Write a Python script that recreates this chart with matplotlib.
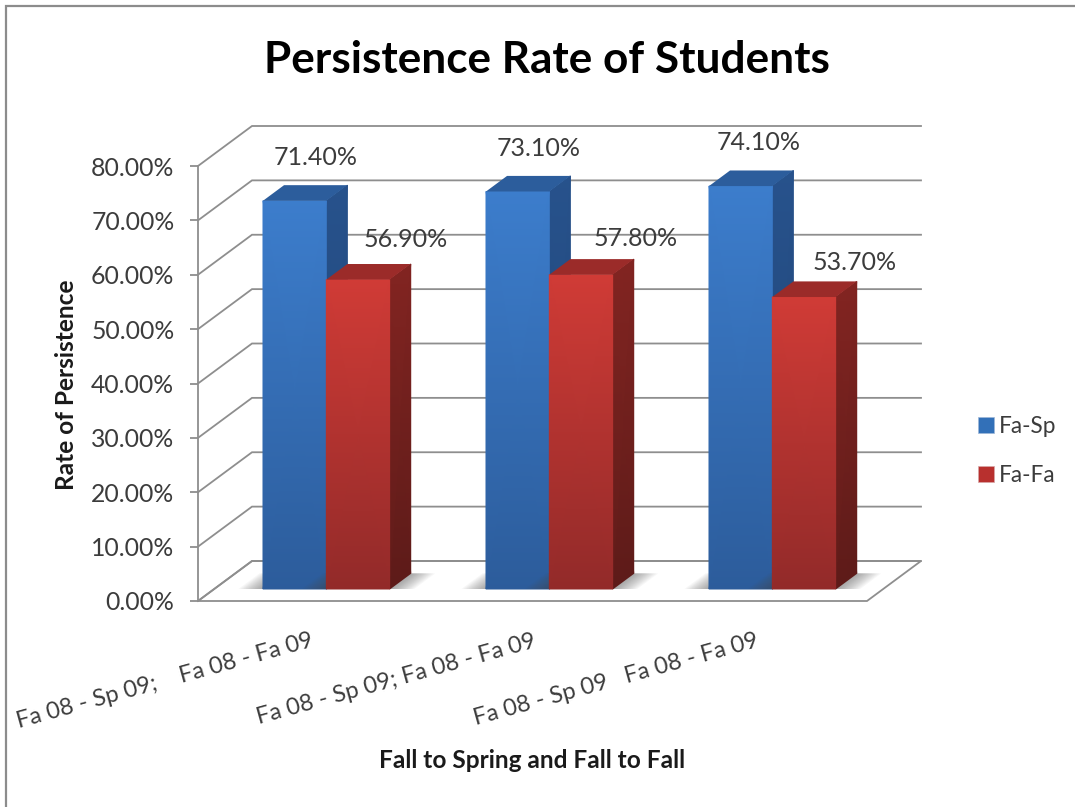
import matplotlib
matplotlib.use("Agg")
import matplotlib.pyplot as plt
import numpy as np
from matplotlib.colors import LinearSegmentedColormap
from matplotlib.patches import Patch, Polygon

# Data
categories = ["Fa 08 - Sp 09;    Fa 08 - Fa 09", "Fa 08 - Sp 09; Fa 08 - Fa 09", "Fa 08 - Sp 09   Fa 08 - Fa 09"]
fa_sp = [71.4, 73.1, 74.1]
fa_fa = [56.9, 57.8, 53.7]
y_ticks = [0, 10, 20, 30, 40, 50, 60, 70, 80]

# where each value label sits, pixels from the top centre of the bar front
sp_label_offsets = [(21, 43), (21, 43), (18, 44)]
fa_label_offsets = [(48, 40), (55, 36), (51, 35)]

GRID = "#8e8e8e"
TEXT = "#3c3c3c"
plt.rcParams["font.family"] = ["Lato", "DejaVu Sans"]

W, H = 1075, 807
fig = plt.figure(figsize=(W / 100, H / 100), dpi=100, facecolor="white")
ax = fig.add_axes([198 / W, (H - 601) / H, 669 / W, 435 / H])
ax.set_xlim(0, 3)
ax.set_ylim(0, 80)
ax.patch.set_visible(False)

# depth 0 is the front of the box, depth 1 the back wall
KX = 54 / 223
KY = 40 / (435 / 80)


def project(x, y, depth):
    return x + depth * KX, y + depth * KY


def ramp(*colors):
    return LinearSegmentedColormap.from_list("ramp", colors)


def shade(xs, ys, cmap, zorder):
    # 2x2 quad, ys[0] row is the bright top
    X = np.array(xs, dtype=float).reshape(2, 2)
    Y = np.array(ys, dtype=float).reshape(2, 2)
    C = np.array([[1.0, 1.0], [0.0, 0.0]])
    ax.pcolormesh(X, Y, C, cmap=cmap, shading="gouraud", vmin=0, vmax=1, zorder=zorder, clip_on=False)


# box: floor, left wall, back wall lines
corners = [project(0, 0, 0), project(3, 0, 0), project(3, 0, 1), project(0, 0, 1)]
ax.add_patch(Polygon(corners, closed=True, fc="white", ec=GRID, lw=1.3, zorder=1, clip_on=False))
for v in y_ticks:
    x0, y0 = project(0, v, 0)
    x1, y1 = project(0, v, 1)
    x2, y2 = project(3, v, 1)
    ax.plot([x0, x1, x2], [y0, y1, y1], color=GRID, lw=1.3, zorder=1, clip_on=False, solid_joinstyle="miter")

D0 = 0.3
D1 = 0.69
LEFT = 0.2188
BAR = 0.284

blue_front = ramp("#2c5c9b", "#3c7dcc")
blue_side = ramp("#1f4272", "#27528c")
red_front = ramp("#922a29", "#d03b36")
red_side = ramp("#5e1b19", "#822421")


def draw_bar(x, val, front, side, top, z):
    # soft shadow on the floor, stacked thin layers fading outwards
    for grow in np.linspace(0.11, 0.005, 14):
        pts = [project(x - grow, 0, D0), project(x + BAR + grow, 0, D0),
               project(x + BAR + grow, 0, D1), project(x - grow, 0, D1)]
        ax.add_patch(Polygon(pts, closed=True, fc="#4a4a4a", ec="none", alpha=0.045, zorder=z, clip_on=False))
    xa, ya = project(x, 0, D0)
    xb, yb = project(x + BAR, 0, D0)
    xc, yc = project(x + BAR, 0, D1)
    h = val
    shade([xb, xc, xb, xc], [yb + h, yc + h, yb, yc], side, z + 0.1)
    shade([xa, xb, xa, xb], [ya + h, yb + h, ya, yb], front, z + 0.2)
    pts = [project(x, h, D0), project(x + BAR, h, D0), project(x + BAR, h, D1), project(x, h, D1)]
    ax.add_patch(Polygon(pts, closed=True, fc=top, ec="none", zorder=z + 0.3, clip_on=False))


z = 2
for i in range(len(categories)):
    draw_bar(i + LEFT, fa_sp[i], blue_front, blue_side, "#2c5d9c", z)
    draw_bar(i + LEFT + BAR, fa_fa[i], red_front, red_side, "#9b2b29", z + 1)
    z += 2

# value labels
for i in range(len(categories)):
    for val, off, xb in [(fa_sp[i], sp_label_offsets[i], i + LEFT + BAR / 2),
                         (fa_fa[i], fa_label_offsets[i], i + LEFT + BAR * 1.5)]:
        bx, by = project(xb, val, D0)
        ax.annotate(f"{val:.2f}%", (bx, by), xytext=(off[0] * 0.72, off[1] * 0.72), textcoords="offset points",
                    ha="center", va="center", fontsize=18, color=TEXT, zorder=30, annotation_clip=False)

# axes
for s in ["top", "right", "bottom"]:
    ax.spines[s].set_visible(False)
ax.spines["left"].set_color(GRID)
ax.spines["left"].set_linewidth(1.3)
ax.set_yticks(y_ticks)
ax.yaxis.set_major_formatter("{x:.2f}%")
ax.tick_params(axis="y", length=6, width=1.3, color=GRID, labelsize=17.8, labelcolor=TEXT, pad=11)
ax.set_xticks(np.arange(len(categories)) + 0.5)
ax.set_xticklabels(categories, rotation=15.5, ha="right", rotation_mode="anchor", fontsize=17, color=TEXT)
ax.tick_params(axis="x", length=0, pad=21)

fig.text(67 / W, 1 - 385 / H, "Rate of Persistence", rotation=90, ha="center", va="center",
         fontsize=17.6, fontweight="bold", color="#1a1a1a")
fig.text(532 / W, 1 - 760 / H, "Fall to Spring and Fall to Fall", ha="center", va="center",
         fontsize=17.6, fontweight="bold", color="#1a1a1a")
fig.text(547 / W, 1 - 60 / H, "Persistence Rate of Students", ha="center", va="center",
         fontsize=31.8, fontweight="bold", color="black")

# legend
handles = [Patch(fc="#3270b8", ec="#9fb8d8", lw=0.5), Patch(fc="#b8302e", ec="#d8a8a8", lw=0.5)]
fig.legend(handles, ["Fa-Sp", "Fa-Fa"], loc="center left", bbox_to_anchor=(978 / W, 1 - 451 / H), frameon=False,
           fontsize=16.3, labelcolor=TEXT, handlelength=0.72, handleheight=0.72, handletextpad=0.2,
           labelspacing=1.25, borderpad=0, borderaxespad=0)

# outer frame, top and left only
fig.add_artist(plt.Line2D([6 / W, 6 / W, 1], [0, 1 - 6 / H, 1 - 6 / H], color="#8c8c8c", lw=1.6,
                          solid_joinstyle="miter"))

fig.savefig("out.png", dpi=100)
